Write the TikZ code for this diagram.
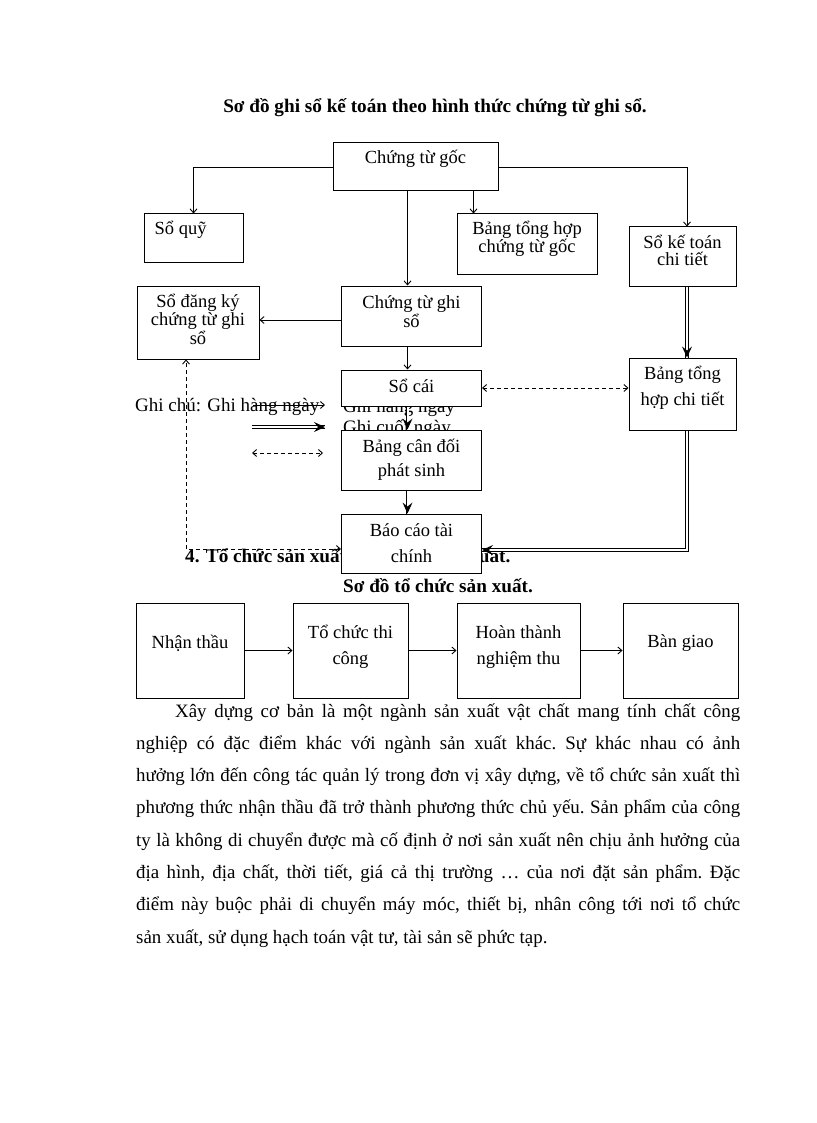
\documentclass[tikz,border=0pt]{standalone}
\usepackage{fontspec}
\setmainfont{Liberation Serif}
\usetikzlibrary{arrows.meta,positioning,decorations.markings}
\tikzset{
    %Define standard arrow tip
    >={Straight Barb[length=4pt,width=7pt]},
    %Define style for boxes
    hop/.style={
           rectangle,
           draw=black, line width=1pt,
           fill=white,
           inner sep=0pt},
    %Define style for texts
    chu/.style={
           font=\fontsize{18.5}{17}\selectfont,
           align=center,
           inner sep=0pt},
    dam/.style={
           font=\bfseries\fontsize{19.2}{23}\selectfont,
           inner sep=0pt},
    % Define arrow styles
    mui/.style={
           ->,
           line width=0.9pt},
    kep/.style={
           double, double distance=2pt,
           line width=0.8pt,
           postaction={decorate, decoration={markings,
             mark=at position 1 with {\fill[black] (0pt,0pt) -- (-11pt,5pt) -- (-7pt,0pt) -- (-11pt,-5pt) -- cycle;}}}},
    doichieu/.style={
           <->,
           line width=0.9pt,
           dash pattern=on 4pt off 3pt}
}
\begin{document}
\begin{tikzpicture}[x=1pt,y=-1pt]
\useasboundingbox (0,0) rectangle (816,1123);

 %title
\node[dam, anchor=base] (tieude) at (435,113) {Sơ đồ ghi sổ kế toán theo hình thức chứng từ ghi sổ.};

 %legend and heading (partly hidden by the boxes)
\node[chu, font=\fontsize{19}{20}\selectfont, anchor=base west] (ghichu) at (135,411) {Ghi chú: Ghi hàng ngày};
\node[chu, font=\fontsize{19}{20}\selectfont, anchor=base west] (gc1) at (343,412) {Ghi hàng ngày};
\node[chu, font=\fontsize{19}{20}\selectfont, anchor=base west] (gc2) at (343,433) {Ghi cuối ngày};
\node[dam, anchor=base west] (muc4) at (185,562) {4. Tổ chức sản xuất và quản lí sản xuất.};

 %nodes
\node[hop, minimum width=165pt, minimum height=48pt,
  label={[chu,yshift=8pt]center:Chứng từ gốc}] (ctg) at (415.5,167) {};
\node[hop, minimum width=99pt, minimum height=48pt,
  label={[chu,anchor=west,xshift=11pt,yshift=8pt]west:Sổ quỹ}] (soquy) at (193.5,238) {};
\node[hop, minimum width=140pt, minimum height=60pt,
  label={[chu,yshift=5.5pt]center:{Bảng tổng hợp\\chứng từ gốc}}] (bthctg) at (527,244) {};
\node[hop, minimum width=107pt, minimum height=59pt,
  label={[chu,font=\fontsize{18.5}{17.5}\selectfont,yshift=6pt]center:{Sổ kế toán\\chi tiết}}] (sktct) at (682.5,256.5) {};
\node[hop, minimum width=122pt, minimum height=73pt,
  label={[chu,font=\fontsize{18.5}{16.5}\selectfont,yshift=3pt]center:{Sổ đăng ký\\chứng từ ghi\\sổ}}] (sdk) at (198,322.5) {};
\node[hop, minimum width=140pt, minimum height=60pt,
  label={[chu,yshift=4.5pt]center:{Chứng từ ghi\\sổ}}] (ctgs) at (411.5,316) {};
\node[hop, minimum width=140pt, minimum height=36pt,
  label={[chu,yshift=2pt]center:Sổ cái}] (socai) at (411.5,388) {};
\node[hop, minimum width=107pt, minimum height=72pt,
  label={[chu,font=\fontsize{18.5}{26}\selectfont,yshift=6pt]center:{Bảng tổng\\hợp chi tiết}}] (bthct) at (682.5,394) {};
\node[hop, minimum width=140pt, minimum height=60pt,
  label={[chu,font=\fontsize{18.5}{24}\selectfont]center:{Bảng cân đối\\phát sinh}}] (bcd) at (411.5,460) {};
\node[hop, minimum width=140pt, minimum height=59pt,
  label={[chu,font=\fontsize{18.5}{26}\selectfont]center:{Báo cáo tài\\chính}}] (bctc) at (411.5,543.5) {};

 %legend arrows
\coordinate (l1) at (253,405);
\coordinate (l1e) at (325,405);
\coordinate (l2) at (252,427);
\coordinate (l2e) at (325,427);
\coordinate (l3) at (252,453);
\coordinate (l3e) at (323,453);
\draw[mui] (l1) -- (l1e);
\draw[kep] (l2) -- (l2e);
\draw[doichieu] (l3) -- (l3e);

 %edges
\draw[mui] (ctg.west) -| (soquy.north);
\draw[mui] (ctg.east) -| ([xshift=4.5pt]sktct.north);
\draw[mui] ([xshift=-25pt]ctg.south east) -- ([xshift=-25pt]ctg.south east |- bthctg.north);
\draw[mui] ([xshift=-4pt]ctgs.north |- ctg.south) -- ([xshift=-4pt]ctgs.north);
\draw[mui] ([yshift=-4pt]ctgs.west) -- ([yshift=-4pt]ctgs.west -| sdk.east);
\draw[mui] ([xshift=-4pt]ctgs.south) -- ([xshift=-4pt]socai.north);
\draw[kep] ([xshift=-4pt]socai.south) -- ([xshift=-4pt]bcd.north);
\draw[kep] ([xshift=-4pt]bcd.south) -- ([xshift=-4pt]bctc.north);
\draw[kep] ([xshift=4.5pt]sktct.south) -- ([xshift=4.5pt]bthct.north);
\draw[doichieu] (socai.east) -- (socai.east -| bthct.west);
\draw[kep] ([xshift=4.5pt]bthct.south) |- ([yshift=-6.5pt]bctc.east);
\draw[doichieu] ([yshift=-5.5pt]bctc.west) -| ([xshift=-12pt]sdk.south);

 %second diagram
\node[dam, anchor=base west] (sodo2) at (343,592) {Sơ đồ tổ chức sản xuất.};
\node[hop, minimum width=108pt, minimum height=95pt,
  label={[chu,yshift=7.5pt]center:Nhận thầu}] (nt) at (190,650.5) {};
\node[hop, minimum width=115pt, minimum height=95pt, right=48pt of nt,
  label={[chu,font=\fontsize{18.5}{26}\selectfont,yshift=3.5pt]center:{Tổ chức thi\\công}}] (tctc) {};
\node[hop, minimum width=123pt, minimum height=95pt, right=48pt of tctc,
  label={[chu,font=\fontsize{18.5}{26}\selectfont,yshift=3.5pt]center:{Hoàn thành\\nghiệm thu}}] (htnt) {};
\node[hop, minimum width=115pt, minimum height=95pt, right=42pt of htnt,
  label={[chu,yshift=7.5pt]center:Bàn giao}] (bg) {};
\draw[mui] (nt) -- (tctc);
\draw[mui] (tctc) -- (htnt);
\draw[mui] (htnt) -- (bg);

 %paragraph
\node[anchor=base west, text width=604pt, align=justify, inner sep=0pt,
  font=\fontsize{18.9}{32.3}\selectfont] (doan) at (136,717) {%
\frenchspacing\tolerance=10000\parfillskip=0pt
\hspace*{39pt}Xây dựng cơ bản là một ngành sản xuất vật chất mang tính chất công\par
nghiệp có đặc điểm khác với ngành sản xuất khác. Sự khác nhau có ảnh\par
hưởng lớn đến công tác quản lý trong đơn vị xây dựng, về tổ chức sản xuất thì\par
phương thức nhận thầu đã trở thành phương thức chủ yếu. Sản phẩm của công\par
ty là không di chuyển được mà cố định ở nơi sản xuất nên chịu ảnh hưởng của\par
địa hình, địa chất, thời tiết, giá cả thị trường … của nơi đặt sản phẩm. Đặc\par
điểm này buộc phải di chuyển máy móc, thiết bị, nhân công tới nơi tổ chức\par
\parfillskip=0pt plus 1fil
sản xuất, sử dụng hạch toán vật tư, tài sản sẽ phức tạp.};

\end{tikzpicture}
\end{document}
